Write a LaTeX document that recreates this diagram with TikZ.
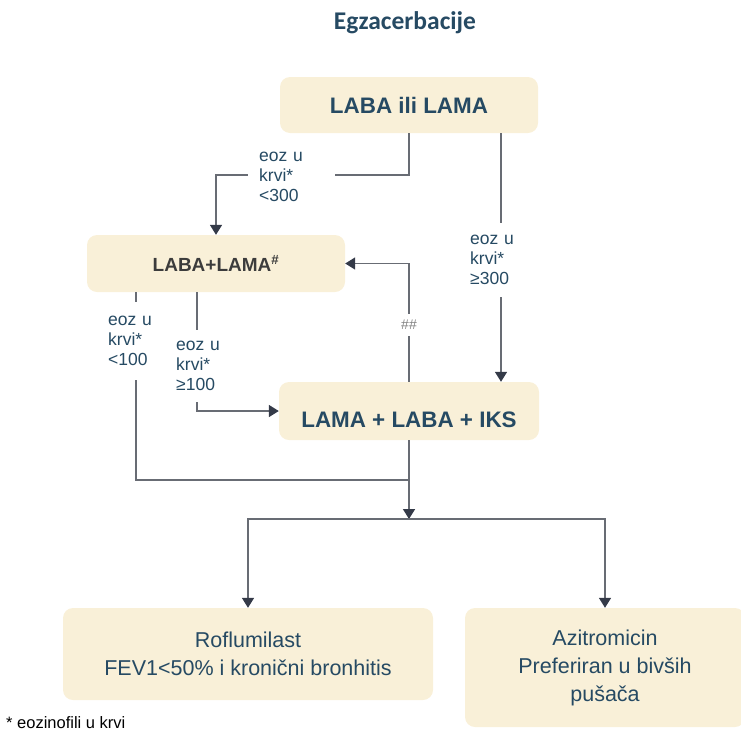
\documentclass[tikz,border=0pt]{standalone}
\usepackage{fontspec}
\setmainfont{Liberation Sans}
\newfontfamily\titlefont{Carlito}
\usetikzlibrary{arrows.meta}

\definecolor{boxfill}{RGB}{249,240,216}
\definecolor{textblue}{RGB}{38,74,99}
\definecolor{linegray}{RGB}{104,108,116}
\definecolor{tipdark}{RGB}{52,58,72}
\definecolor{dualgray}{RGB}{60,60,60}

\tikzset{
    box/.style={fill=boxfill, rounded corners=10pt, inner sep=0pt, align=center, text=textblue},
    cond/.style={fill=white, inner sep=0pt, align=left, anchor=west, text=textblue,
                 font=\fontsize{17.5}{20}\selectfont},
    link/.style={draw=linegray, line width=1.6pt},
    arr/.style={link, -{Triangle[width=12pt,length=10pt,color=tipdark]}}
}

\begin{document}
\begin{tikzpicture}[x=1pt, y=-1pt]
        \useasboundingbox (0,0) rectangle (741,734);

        \node[text=textblue, font=\titlefont\bfseries\fontsize{25.5}{30}\selectfont] (title) at (405, 23) {Egzacerbacije};

        \node[box, minimum width=258pt, minimum height=56pt, font=\bfseries\fontsize{22.4}{26}\selectfont] (single) at (409, 105) {LABA ili LAMA};
        \node[box, minimum width=258pt, minimum height=57pt, text=dualgray, font=\bfseries\fontsize{19}{22}\selectfont] (dual) at (216, 263.5) {LABA+LAMA\textsuperscript{\#}};
        \node[box, minimum width=260pt, minimum height=58pt, text height=32pt, text depth=0pt, font=\bfseries\fontsize{22.4}{26}\selectfont] (triple) at (409, 411) {LAMA + LABA + IKS};
        \node[box, minimum width=370pt, minimum height=92pt, font=\fontsize{21.5}{28}\selectfont] (rof) at (248, 654) {Roflumilast\\FEV1<50\% i kronični bronhitis};
        \node[box, minimum width=280pt, minimum height=119pt, font=\fontsize{21.5}{28}\selectfont] (azi) at (605, 667.5) {Azitromicin\\Preferiran u bivših\\pušača};

        \coordinate (join) at (409, 480);
        \coordinate (split) at (409, 519);

        \draw[arr] (single.south) -- ++(0,42) -| (dual.north);
        \draw[arr] ([xshift=92pt]single.south) -- ([xshift=92pt]single.south |- triple.north);
        \draw[arr] (triple.north) |- (dual.east);
        \draw[arr] ([xshift=-19pt]dual.south) |- (triple.west);
        \draw[link] ([xshift=-80pt]dual.south) |- (join);
        \draw[link] (triple.south) -- (join);
        \draw[arr] (join) -- (split);
        \draw[arr] (split) -| (rof.north);
        \draw[arr] (split) -| (azi.north);

        \node[cond, inner xsep=11pt, text width=65pt, minimum height=60pt] (lt300) at (248, 177) {eoz u\\krvi*\\<300};
        \node[cond, inner xsep=8pt, text width=55pt, minimum height=74pt] (ge300) at (462, 260) {eoz u\\krvi*\\≥300};
        \node[cond, inner xsep=8pt, text width=45pt, minimum height=78pt] (lt100) at (100, 341) {eoz u\\krvi*\\<100};
        \node[cond, inner xsep=8pt, text width=45pt, minimum height=72pt] (ge100) at (168, 366) {eoz u\\krvi*\\≥100};
        \node[fill=white, text=gray, inner sep=3pt, minimum height=22pt, font=\fontsize{14}{16}\selectfont] (hh) at (409, 325) {\#\#};

        \node[anchor=west, inner sep=0pt, font=\fontsize{16.5}{19}\selectfont] (note) at (6, 723) {* eozinofili u krvi};
    \end{tikzpicture}
\end{document}
